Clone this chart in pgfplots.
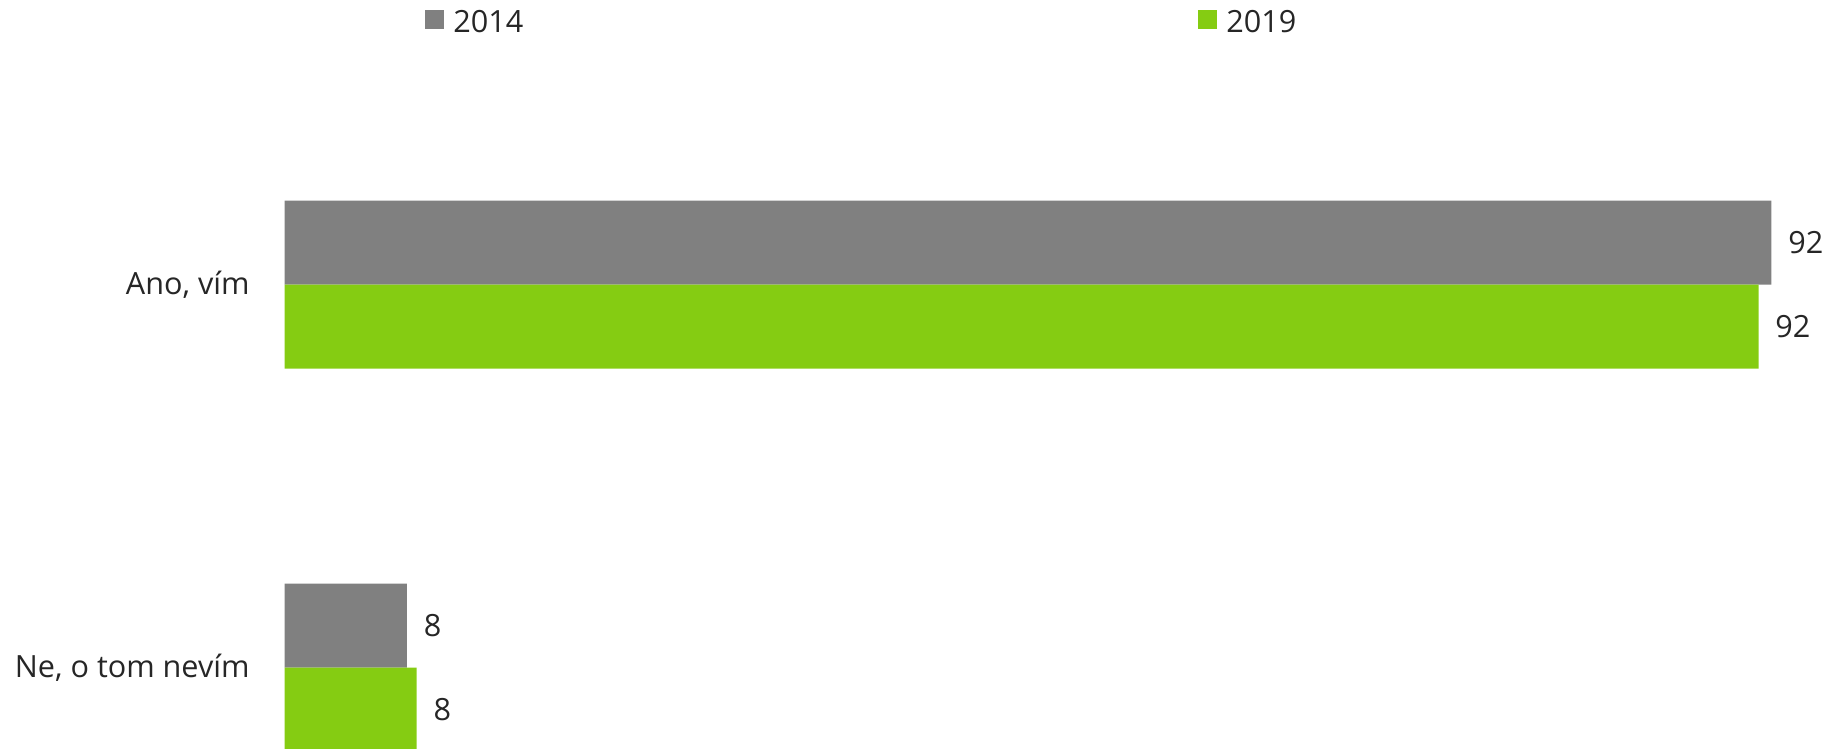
\documentclass[border=0pt]{standalone}
\usepackage{pgfplots}
\pgfplotsset{compat=1.18}
\usepackage{fontspec}
\setmainfont{Open Sans}
\definecolor{gbar}{HTML}{808080}
\definecolor{lbar}{HTML}{85CC12}
\definecolor{txt}{HTML}{262626}
\begin{document}
\begin{tikzpicture}
\begin{axis}[
  at={(0,0)}, anchor=south west,
  scale only axis, width=774.15pt, height=374.5pt,
  xbar=0pt, bar width=42pt,
  xmin=0, xmax=96.23, ymin=-0.7433, ymax=1.2123,
  y dir=reverse,
  ytick={0,1}, yticklabels={{Ano, vím},{Ne, o tom nevím}},
  xtick=\empty,
  axis line style={draw=none}, major tick length=0pt, tick style={draw=none},
  yticklabel style={anchor=east, inner sep=0pt, xshift=-17.35pt, font=\fontsize{15.3}{18}\selectfont, text=txt},
  clip=false,
  /pgf/number format/assume math mode=true,
  nodes near coords={\pgfmathprintnumber[fixed,precision=0]{\pgfplotspointmeta}},
  nodes near coords style={anchor=west, inner sep=0pt, xshift=8.25pt, font=\fontsize{15.3}{18}\selectfont, text=txt},
  legend columns=2,
  legend image code/.code={\fill[#1] (0pt,-3.45pt) rectangle (9.5pt,6.05pt);},
  legend style={draw=none, fill=none, inner sep=0pt, at={(0.0906,0.970)}, anchor=west,
    font=\fontsize{15.3}{18}\selectfont, text=txt,
    nodes={inner sep=0pt},
    /tikz/column sep=4.5pt,
    /tikz/every even column/.append style={column sep=337.5pt}},
]
\addplot[fill=gbar, draw=none, bar shift=21pt] coordinates {(92.4,0) (7.6,1)};
\addplot[fill=lbar, draw=none, bar shift=-21pt] coordinates {(91.6,0) (8.2,1)};
\legend{2014,2019}
\end{axis}
\pgfresetboundingbox
\path[use as bounding box] (-142.35pt,0pt) rectangle (774.15pt,374.5pt);
\end{tikzpicture}
\end{document}
